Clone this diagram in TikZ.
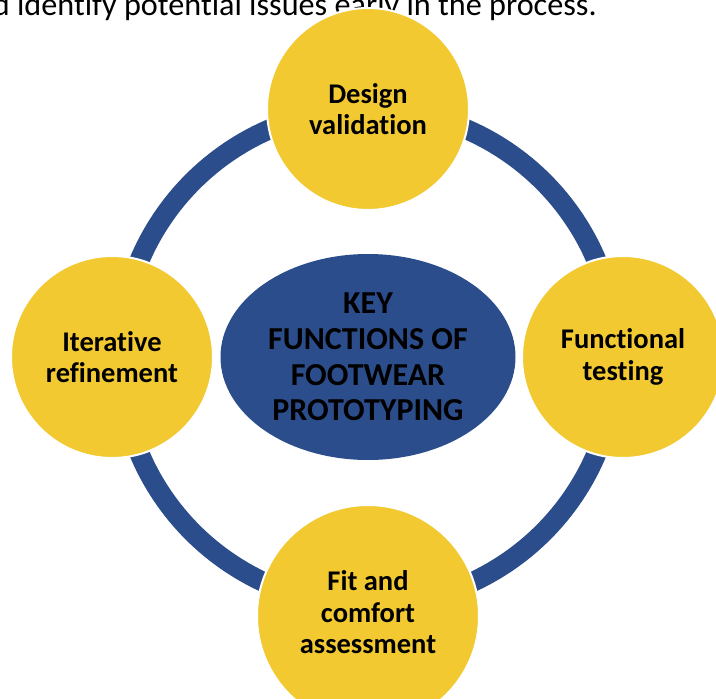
\documentclass[tikz,border=0pt]{standalone}
\usepackage{fontspec}
\setmainfont{Carlito}[Ligatures=NoCommon]
\usepackage{xcolor}
\usepackage{tikz}
\usetikzlibrary{positioning,shapes.geometric}
\definecolor{anelAzul}{RGB}{44,77,140}
\definecolor{discoOuro}{RGB}{242,201,49}
\tikzset{
    funcao/.style={
        circle,
        draw=white,
        line width=2pt,
        fill=discoOuro,
        align=center,
        inner sep=0pt,
        minimum size=202pt,
        font=\fontsize{28.5}{31.5}\selectfont\bfseries
    },
    nucleo/.style={
        ellipse,
        fill=anelAzul,
        align=center,
        inner sep=0pt,
        minimum width=295pt,
        minimum height=206pt,
        font=\fontsize{32}{35.7}\selectfont\bfseries
    },
    anel/.style={draw=anelAzul, line width=20pt}
}

\begin{document}
\begin{tikzpicture}[x=1pt, y=-1pt]
        \useasboundingbox (0,0) rectangle (716,699);

        % linha de texto cortada no topo
        \node[anchor=base east, inner sep=0pt, font=\fontsize{32.2}{38}\selectfont] (frase) at (597,15)
            {d identify potential issues early in the process.};

        \coordinate (hub) at (368,357);
        \draw[anel] (hub) circle (248pt);

        \node[nucleo] (centro) at (hub)
            {KEY\\FUNCTIONS OF\\FOOTWEAR\\PROTOTYPING};

        \node[funcao] (design) at (368,109) {Design\\validation};
        \node[funcao] (funcional) at (623,357) {Functional\\testing};
        \node[funcao, minimum size=222pt] (ajuste) at (368,616)
            {\raisebox{8pt}{\begin{tabular}{@{}c@{}}Fit and\\comfort\\assessment\end{tabular}}};
        \node[funcao] (iterativo) at (112,357) {Iterative\\refinement};
    \end{tikzpicture}
\end{document}
